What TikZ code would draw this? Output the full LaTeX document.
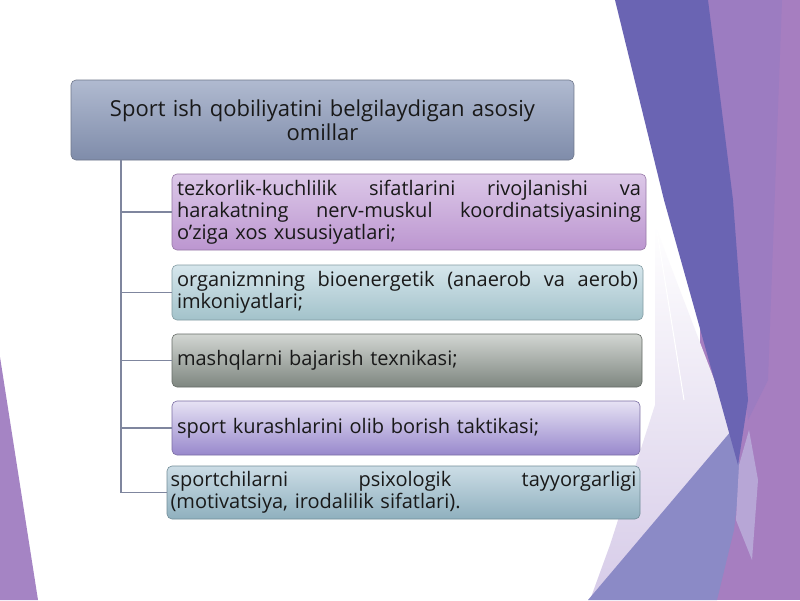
\documentclass[tikz,border=0pt]{standalone}
\usepackage{fontspec}
\setmainfont{Open Sans}
\newcommand{\jln}[2]{\makebox[#1][l]{#2}}
\begin{document}
\begin{tikzpicture}[x=1pt,y=-1pt,
  bx/.style={rounded corners=5pt, draw=#1!80!black, line width=0.6pt, anchor=center,
     inner xsep=4pt, inner ysep=0pt, align=left, text=black!90, font=\fontsize{20}{22}\selectfont},
  conn/.style={draw=linec, line width=1.5pt}]
\definecolor{linec}{HTML}{7F869E}
\definecolor{dband}{HTML}{6A64B3}
\definecolor{mpurp}{HTML}{9C7CC1}
\definecolor{ppurp}{HTML}{A67EC0}
\definecolor{blav}{HTML}{8B8AC6}
\definecolor{llav}{HTML}{D6CBE8}
\definecolor{lstrip}{HTML}{B7A6D6}
\definecolor{ltri}{HTML}{A584C4}
\definecolor{topt}{HTML}{B0BAD0}
\definecolor{topb}{HTML}{7F8CAA}
\definecolor{topc}{HTML}{8A94AC}
\definecolor{c1t}{HTML}{DCC8E8}
\definecolor{c1b}{HTML}{BC96D0}
\definecolor{c2t}{HTML}{D6E6EC}
\definecolor{c2b}{HTML}{A2C2CA}
\definecolor{c3t}{HTML}{D2D6D2}
\definecolor{c3b}{HTML}{7E8680}
\definecolor{c4t}{HTML}{E6E2F4}
\definecolor{c4b}{HTML}{9888CC}
\definecolor{c5t}{HTML}{CCDDE6}
\definecolor{c5b}{HTML}{8FB0BE}
\useasboundingbox (0,0) rectangle (800,600);
\fill[white] (0,0) rectangle (800,600);
% decorative background
\fill[ppurp] (700,0) -- (800,0) -- (800,600) -- (700,600) -- cycle;
\fill[mpurp] (706,0) -- (782,0) -- (768,380) -- (748,420) -- cycle;
\shade[top color=white, bottom color=llav] (655,225) -- (722,400) -- (733,430) -- (590,600) -- (610,545) -- (655,405) -- cycle;
\fill[blav] (588,600) -- (732,430) -- (741,470) -- (734,530) -- (717,600) -- cycle;
\fill[lstrip] (739,465) -- (749,430) -- (758,480) -- (752,560) -- (736,520) -- cycle;
\fill[dband] (615,0) -- (708,0) -- (733,200) -- (748,400) -- (738,465) -- (720,400) -- (664,200) -- cycle;
\draw[white, line width=1pt] (612,0) -- (652,200) -- (684,400);
\fill[ltri] (0,357) -- (38,600) -- (0,600) -- cycle;
% nodes
\node[bx=topc, top color=topt, bottom color=topb, minimum width=503pt, minimum height=80pt, align=center,
      text width=495pt, font=\fontsize{22}{24}\selectfont] (top) at (322.5,120)
      {Sport ish qobiliyatini belgilaydigan asosiy\\omillar};
\node[bx=c1b, top color=c1t, bottom color=c1b, minimum width=474pt, minimum height=76pt, text width=464pt] (c1) at (409,212)
      {\jln{464pt}{tezkorlik-kuchlilik\hfill sifatlarini\hfill rivojlanishi\hfill va}\\
       \jln{464pt}{harakatning\hfill nerv-muskul\hfill koordinatsiyasining}\\
       o’ziga xos xususiyatlari;};
\node[bx=c2b, top color=c2t, bottom color=c2b, minimum width=471pt, minimum height=55pt, text width=461pt] (c2) at (407.5,292.5)
      {\jln{461pt}{organizmning\hfill bioenergetik\hfill (anaerob\hfill va\hfill aerob)}\\
       imkoniyatlari;};
\node[bx=c3b, top color=c3t, bottom color=c3b, minimum width=470pt, minimum height=53pt, text width=460pt] (c3) at (407,360.5)
      {mashqlarni bajarish texnikasi;};
\node[bx=c4b, top color=c4t, bottom color=c4b, minimum width=468pt, minimum height=54pt, text width=458pt] (c4) at (406,428)
      {sport kurashlarini olib borish taktikasi;};
\node[bx=c5b, top color=c5t, bottom color=c5b, minimum width=473pt, minimum height=53pt, text width=466pt, inner xsep=3pt] (c5) at (403.5,492.5)
      {\jln{466pt}{sportchilarni\hfill psixologik\hfill tayyorgarligi}\\
       (motivatsiya, irodalilik sifatlari).};
% connectors
\coordinate (tk) at (top.south -| 121,0);
\coordinate (tb) at (c5.west -| 121,0);
\draw[conn] (tk) -- (tb);
\foreach \c in {c1,c2,c3,c4,c5} \draw[conn] (\c.west -| tk) -- (\c.west);
\end{tikzpicture}
\end{document}
